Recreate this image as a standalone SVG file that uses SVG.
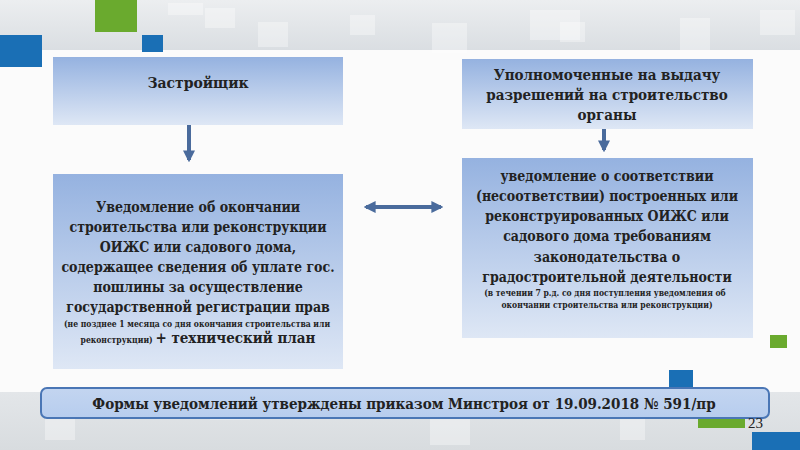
<svg xmlns="http://www.w3.org/2000/svg" width="800" height="450" viewBox="0 0 800 450" font-family="DejaVu Serif Condensed, DejaVu Serif, serif">
<defs>
<linearGradient id="boxg" x1="0" y1="0" x2="0" y2="1">
<stop offset="0" stop-color="#95b2e0"/>
<stop offset="1" stop-color="#dee7f5"/>
</linearGradient>
<linearGradient id="topg" x1="0" y1="0" x2="0" y2="1">
<stop offset="0" stop-color="#eceef0"/>
<stop offset="1" stop-color="#dadee2"/>
</linearGradient>
<linearGradient id="botg" x1="0" y1="0" x2="0" y2="1">
<stop offset="0" stop-color="#e3e6e9"/>
<stop offset="1" stop-color="#d8dcdf"/>
</linearGradient>
<linearGradient id="banner" x1="0" y1="0" x2="0" y2="1">
<stop offset="0" stop-color="#c3d5f0"/>
<stop offset="1" stop-color="#b7cdee"/>
</linearGradient>
<marker id="ah" viewBox="0 0 10 10" refX="8" refY="5" markerWidth="3" markerHeight="3" orient="auto-start-reverse">
<path d="M0,0 L10,5 L0,10 z" fill="#4a6b9c"/>
</marker>
<style>
.box{fill:url(#boxg)}
.t{font-weight:bold;fill:#222;text-anchor:middle}
.m{font-size:14px}
.h{font-size:15px}
.s{font-size:8.5px}
.c{stroke:#4a6b9c;stroke-width:4;fill:none}
.deco{fill:#ffffff;opacity:0.35}
</style>
</defs>
<rect width="800" height="450" fill="#fbfbfb"/>
<rect width="800" height="50" fill="url(#topg)"/>
<rect x="0" y="392" width="800" height="58" fill="url(#botg)"/>
<rect class="deco" x="168" y="3" width="35" height="12"/>
<rect class="deco" x="205" y="8" width="30" height="20"/>
<rect class="deco" x="258" y="22" width="30" height="25"/>
<rect class="deco" x="350" y="15" width="25" height="20"/>
<rect class="deco" x="432" y="23" width="35" height="30"/>
<rect class="deco" x="530" y="10" width="50" height="30"/>
<rect class="deco" x="560" y="22" width="25" height="20"/>
<rect class="deco" x="680" y="18" width="30" height="32"/>
<rect class="deco" x="760" y="10" width="35" height="25"/>
<rect class="deco" x="45" y="415" width="30" height="25"/>
<rect class="deco" x="210" y="400" width="40" height="20"/>
<rect class="deco" x="430" y="415" width="40" height="30"/>
<rect class="deco" x="620" y="415" width="25" height="25"/>
<rect x="95" y="0" width="42" height="32" fill="#6aaa2e"/>
<rect x="0" y="35" width="42" height="32" fill="#1a6fb5"/>
<rect x="142" y="35" width="21" height="17" fill="#1a6fb5"/>
<rect x="770" y="335" width="17" height="13" fill="#6aaa2e"/>
<rect x="669" y="370" width="24" height="25" fill="#1a6fb5"/>
<rect x="698" y="418" width="47" height="10" fill="#6aaa2e"/>
<rect x="752" y="432" width="48" height="18" fill="#1a6fb5"/>

<g id="connectors">
<line class="c" x1="189" y1="125" x2="189" y2="160" marker-end="url(#ah)"/>
<line class="c" x1="604" y1="129" x2="604" y2="150" marker-end="url(#ah)"/>
<line class="c" x1="366" y1="207" x2="441" y2="207" marker-start="url(#ah)" marker-end="url(#ah)"/>
</g>

<g id="developer">
<rect class="box" x="53" y="57" width="290" height="68"/>
<text class="t" x="198" y="88" font-size="15.5">Застройщик</text>
</g>

<g id="authority">
<rect class="box" x="462" y="59" width="291" height="70"/>
<text class="t h" x="607" y="80">Уполномоченные на выдачу</text>
<text class="t h" x="607" y="100">разрешений на строительство</text>
<text class="t h" x="607" y="120">органы</text>
</g>

<g id="notice">
<rect class="box" x="53" y="174" width="290" height="195"/>
<text class="t m" x="198" y="212">Уведомление об окончании</text>
<text class="t m" x="198" y="232">строительства или реконструкции</text>
<text class="t m" x="198" y="252">ОИЖС или садового дома,</text>
<text class="t m" x="198" y="272">содержащее сведения об уплате гос.</text>
<text class="t m" x="198" y="292">пошлины за осуществление</text>
<text class="t m" x="198" y="312">государственной регистрации прав</text>
<text class="t s" x="197" y="327">(не позднее 1 месяца со дня окончания строительства или</text>
<text class="t" x="198" y="343"><tspan font-size="8.5">реконструкции) </tspan><tspan font-size="15">+ технический план</tspan></text>
</g>

<g id="response">
<rect class="box" x="462" y="158" width="291" height="180"/>
<text class="t m" x="607" y="181">уведомление о соответствии</text>
<text class="t m" x="607" y="201">(несоответствии) построенных или</text>
<text class="t m" x="607" y="221">реконструированных ОИЖС или</text>
<text class="t m" x="607" y="241">садового дома требованиям</text>
<text class="t m" x="607" y="262">законодательства о</text>
<text class="t m" x="607" y="282">градостроительной деятельности</text>
<text class="t s" x="605" y="296">(в течении 7 р.д. со дня поступления уведомления об</text>
<text class="t s" x="607" y="308">окончании строительства  или реконструкции)</text>
</g>

<g id="banner-note">
<rect x="41" y="388" width="728" height="30" rx="6" fill="url(#banner)" stroke="#4a76b5" stroke-width="2"/>
<text class="t" x="404" y="409" font-size="15">Формы уведомлений утверждены приказом Минстроя от 19.09.2018 № 591/пр</text>
</g>
<text x="748" y="428" font-size="15" fill="#222" font-family="Liberation Serif, serif">23</text>
</svg>
